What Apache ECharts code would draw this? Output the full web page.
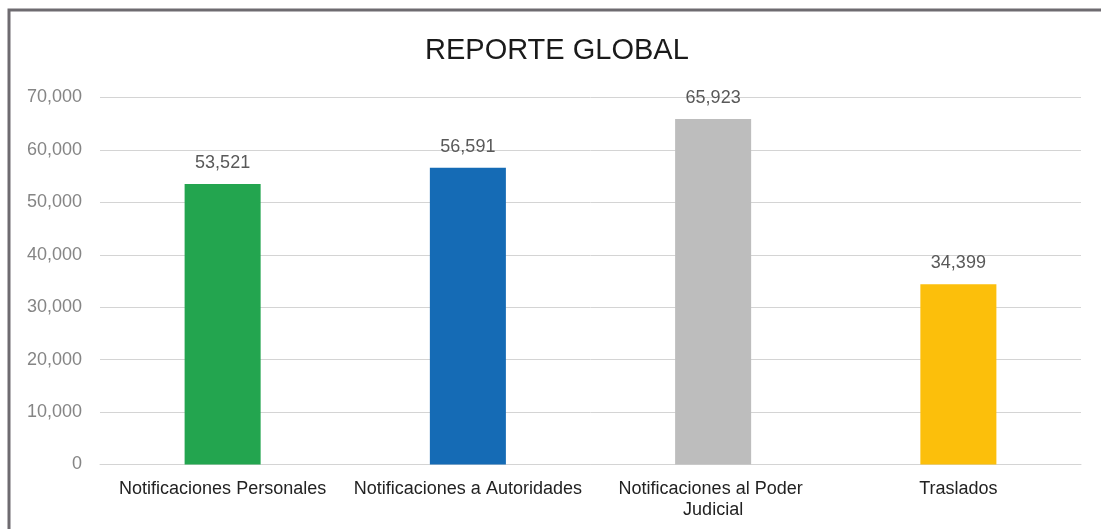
<!DOCTYPE html>
<html>
<head>
<meta charset="utf-8">
<script src="https://cdn.jsdelivr.net/npm/echarts@6/dist/echarts.min.js"></script>
<style>
html,body{margin:0;padding:0;background:#fff;}
#chart{width:1101px;height:529px;}
</style>
</head>
<body>
<div id="chart"></div>
<script>
var categories = ['Notificaciones Personales', 'Notificaciones a Autoridades', 'Notificaciones al Poder Judicial', 'Traslados'];
var values = [53521, 56591, 65923, 34399];
var barColors = ['#23a54f', '#156bb5', '#bdbdbd', '#fcbf0b'];
var yTicks = [0, 10000, 20000, 30000, 40000, 50000, 60000, 70000];

var chart = echarts.init(document.getElementById('chart'));
var font = '"Liberation Sans", Arial, sans-serif';
chart.setOption({
  animation: false,
  backgroundColor: '#fff',
  title: {
    text: 'REPORTE GLOBAL',
    left: 420,
    top: 31,
    textStyle: { fontFamily: font, fontSize: 29, fontWeight: 'normal', color: '#1a1a1a' }
  },
  graphic: [{
    type: 'rect',
    shape: { x: 9, y: 10, width: 1200, height: 600 },
    style: { fill: 'none', stroke: '#6e6b70', lineWidth: 3 },
    silent: true
  }],
  grid: { left: 100, right: 20, top: 97.5, bottom: 64.5, containLabel: false },
  xAxis: {
    type: 'category',
    data: categories,
    axisLine: { show: true, lineStyle: { color: '#d4d4d4', width: 1 } },
    axisTick: { show: false },
    axisLabel: {
      fontFamily: font, fontSize: 18, color: '#222222', margin: 14,
      width: 232, overflow: 'break', lineHeight: 21, interval: 0
    }
  },
  yAxis: {
    type: 'value',
    min: yTicks[0],
    max: yTicks[yTicks.length - 1],
    interval: yTicks[1] - yTicks[0],
    axisLine: { show: false },
    axisTick: { show: false },
    splitLine: { lineStyle: { color: '#d4d4d4', width: 1 } },
    axisLabel: {
      fontFamily: font, fontSize: 18, color: '#858585', margin: 18,
      formatter: function (v) { return v.toLocaleString('en-US'); }
    }
  },
  series: [{
    type: 'bar',
    barWidth: '31%',
    data: values.map(function (v, i) { return { value: v, itemStyle: { color: barColors[i] } }; }),
    label: {
      show: true, position: 'top', distance: 12,
      fontFamily: font, fontSize: 18, color: '#595959',
      formatter: function (p) { return p.value.toLocaleString('en-US'); }
    }
  }]
});
</script>
</body>
</html>
